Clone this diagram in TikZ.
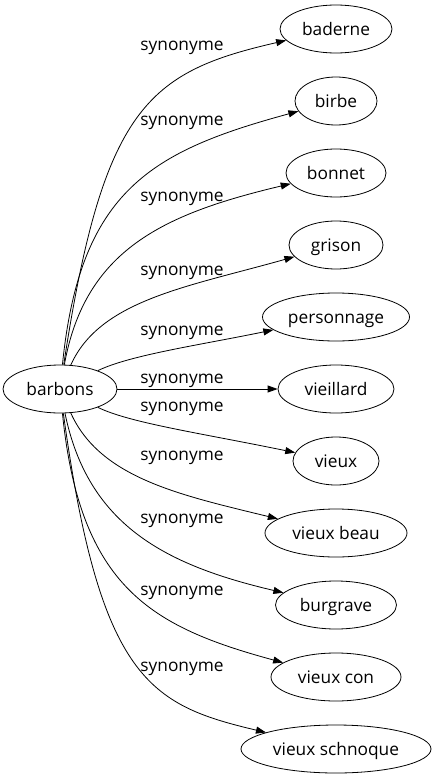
\documentclass[tikz,border=0pt]{standalone}
\usepackage{fontspec}
\setmainfont{Open Sans}
\usetikzlibrary{arrows.meta, shapes.geometric}

\begin{document}
\begin{tikzpicture}[x=1pt, y=-1pt, font=\fontsize{17.3}{20}\selectfont,
        word/.style={draw, ellipse, line width=0.8pt, minimum height=48pt, inner xsep=0pt, text height=12pt, text depth=0pt},
        syn/.style={-{Triangle[length=10pt, width=7pt]}, line width=0.8pt},
        rel/.style={anchor=base}]
        \useasboundingbox (0,0) rectangle (437,779);

        \node[word, minimum width=114pt] (barbons) at (60,389) {barbons};
        \foreach \n/\t/\w [count=\i from 0] in {baderne/baderne/112, birbe/birbe/82, bonnet/bonnet/100, grison/grison/94,
                personnage/personnage/147, vieillard/vieillard/116, vieux/vieux/86, vieuxbeau/vieux beau/142,
                burgrave/burgrave/121, vieuxcon/vieux con/130, vieuxschnoque/vieux schnoque/190}
            \node[word, minimum width=\w pt] (\n) at (336, {29+72*\i}) {\t};

        \draw[syn] (barbons) .. controls (103,107) and (148,72) .. (baderne);
        \draw[syn] (barbons) .. controls (80,190) and (152,151) .. (birbe);
        \draw[syn] (barbons) .. controls (85,250) and (163,214) .. (bonnet);
        \draw[syn] (barbons) .. controls (100,300) and (187,287) .. (grison);
        \draw[syn] (barbons) .. controls (130,355) and (200,345) .. (personnage);
        \draw[syn] (barbons) -- (vieillard);
        \draw[syn] (barbons) .. controls (130,423) and (200,433) .. (vieux);
        \draw[syn] (barbons) .. controls (100,478) and (180,495) .. (vieuxbeau);
        \draw[syn] (barbons) .. controls (88,525) and (165,565) .. (burgrave);
        \draw[syn] (barbons) .. controls (80,588) and (152,627) .. (vieuxcon);
        \draw[syn] (barbons) .. controls (100,680) and (150,705) .. (vieuxschnoque);

        \foreach \y [count=\i] in {45, 120, 196, 270, 330, 378, 406, 455, 518, 590, 666}
            \node[rel] (syn\i) at (182, \y+5) {synonyme};
    \end{tikzpicture}
\end{document}
